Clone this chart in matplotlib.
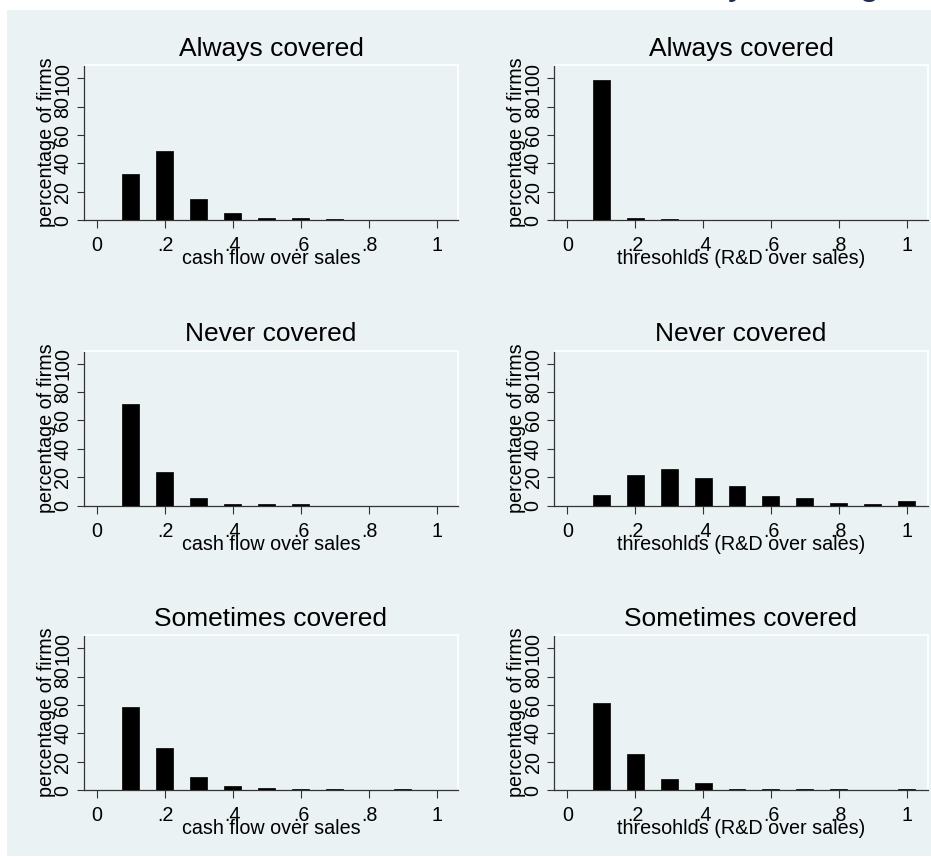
import matplotlib
matplotlib.use("Agg")
import matplotlib.pyplot as plt
from matplotlib.patches import Rectangle

# ---------------- data ----------------
bin_centers = [0.1, 0.2, 0.3, 0.4, 0.5, 0.6, 0.7, 0.8, 0.9, 1.0]

panel_titles = ["Always covered", "Always covered",
                "Never covered", "Never covered",
                "Sometimes covered", "Sometimes covered"]

xlabel_cash = "cash flow over sales"
xlabel_thr = "thresohlds (R&D over sales)"
ylabel_all = "percentage of firms"

cash_always = [32.2, 48.7, 14.8, 4.7, 1.6, 1.2, 1.0, 0.0, 0.0, 0.0]
thr_always = [99.0, 1.2, 0.5, 0.0, 0.0, 0.0, 0.0, 0.0, 0.0, 0.0]
cash_never = [71.8, 23.5, 5.4, 1.4, 0.9, 0.9, 0.0, 0.0, 0.0, 0.0]
thr_never = [7.5, 21.8, 25.8, 19.7, 13.6, 6.6, 5.2, 2.1, 1.0, 3.1]
cash_sometimes = [58.4, 29.9, 9.2, 3.1, 1.4, 0.8, 0.8, 0.0, 0.8, 0.0]
thr_sometimes = [61.6, 25.2, 8.0, 4.7, 0.6, 0.6, 0.6, 0.6, 0.0, 0.6]

xtick_vals = [0, 0.2, 0.4, 0.6, 0.8, 1.0]
xtick_labels = ["0", ".2", ".4", ".6", ".8", "1"]
ytick_vals = [0, 20, 40, 60, 80, 100]
ytick_labels = ["0", "20", "40", "60", "80", "100"]

# ---------------- style ----------------
W, H = 931, 857
BG = "#EAF2F3"
plt.rcParams['font.family'] = ['Liberation Sans', 'DejaVu Sans']

fig = plt.figure(figsize=(W / 100, H / 100), dpi=100)
fig.patch.set_facecolor("white")

# graph region background (behind the axes)
bg = Rectangle((7 / W, 1 - 856 / H), (W - 7) / W, (856 - 10) / H,
               transform=fig.transFigure, facecolor=BG, edgecolor="none",
               zorder=-10)
fig.add_artist(bg)

# cut-off header letters at the very top
for ch, xp in [("y", 737), ("g", 869)]:
    fig.text(xp / W, 1 + 5.5 / H, ch, fontsize=27, color="#1F2D4E",
             ha="center", va="baseline", zorder=5)


def rect(l, t, r, b):
    return [l / W, 1 - b / H, (r - l) / W, (b - t) / H]


cols = [(84, 458), (554.3, 927.7)]
rows = [(65, 220), (350.5, 505.5), (635, 790)]
series = [cash_always, thr_always, cash_never, thr_never, cash_sometimes, thr_sometimes]

for i, vals in enumerate(series):
    r, c = divmod(i, 2)
    l, rr = cols[c]
    t, b = rows[r]
    ax = fig.add_axes(rect(l, t, rr, b))
    ax.set_zorder(1)
    ax.set_facecolor(BG)
    ax.bar(bin_centers, vals, width=0.05, color="black", edgecolor="black",
           linewidth=0.5, zorder=3)
    ax.set_xlim(-0.0382, 1.0618)
    ax.set_ylim(0, 109.3)
    ax.set_xticks(xtick_vals)
    ax.set_xticklabels(xtick_labels)
    ax.set_yticks(ytick_vals)
    ax.set_yticklabels(ytick_labels, rotation=90, va="center")
    ax.tick_params(axis="both", labelsize=14.2, length=5.4, width=0.8,
                   color="#333333", labelcolor="black")
    ax.tick_params(axis="x", pad=6.3)
    ax.tick_params(axis="y", pad=3.0)
    for s in ("left", "bottom"):
        ax.spines[s].set_color("#333333")
        ax.spines[s].set_linewidth(0.9)
    for s in ("top", "right"):
        ax.spines[s].set_color("white")
        ax.spines[s].set_linewidth(1.3)
    ax.set_title(panel_titles[i], fontsize=19, pad=6.5, color="black")
    ax.set_xlabel(xlabel_cash if c == 0 else xlabel_thr, fontsize=14.2)
    ax.xaxis.set_label_coords(0.5, -(249.0 - 220) / 155)
    ax.set_ylabel(ylabel_all, fontsize=14.2)
    ax.yaxis.set_label_coords(-(84 - 55.8) / 374, 0.5)

fig.savefig("out.png", dpi=100, facecolor=fig.get_facecolor())
